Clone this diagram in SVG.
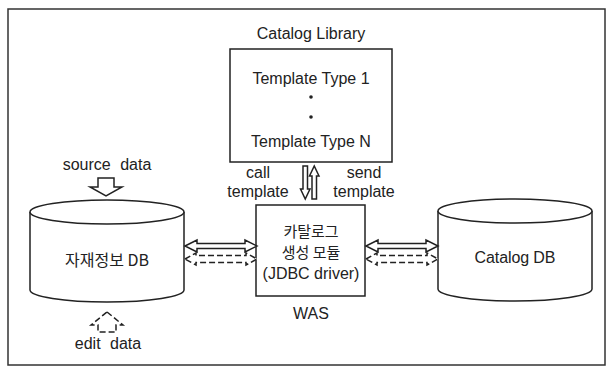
<svg xmlns="http://www.w3.org/2000/svg" width="610" height="366" viewBox="0 0 610 366">
<style>
text{font-family:"Liberation Sans","Noto Sans CJK KR",sans-serif;font-size:16px;fill:#222;text-anchor:middle}
.ko{font-family:"Noto Sans CJK KR",sans-serif;font-size:16px}
.kob{font-family:"Noto Sans CJK KR",sans-serif;font-size:15px}
.ws{word-spacing:5px}
.ln{fill:#fff;stroke:#222;stroke-width:1.5}
.dash{fill:#fff;stroke:#222;stroke-width:1.5;stroke-dasharray:6 3}
.frame{fill:none;stroke:#333;stroke-width:1.5}
</style>
<rect class="frame" x="8" y="9" width="597" height="356"/>

<g id="catalog-library">
  <text x="311" y="39">Catalog Library</text>
  <rect class="ln" x="230" y="49" width="162" height="113"/>
  <text x="311" y="84">Template Type 1</text>
  <circle cx="311" cy="97" r="1.8" fill="#222"/>
  <circle cx="311" cy="117" r="1.8" fill="#222"/>
  <text x="311" y="147">Template Type N</text>
</g>

<g id="material-db">
  <path class="ln" d="M30,212 L30,290 A77,12 0 0 0 184,290 L184,212"/>
  <ellipse class="ln" cx="107" cy="212" rx="77" ry="12"/>
  <text class="ko" x="107" y="266">자재정보 DB</text>
</g>

<g id="catalog-db">
  <path class="ln" d="M438,211 L438,289 A77,12 0 0 0 592,289 L592,211"/>
  <ellipse class="ln" cx="515" cy="211" rx="77" ry="12"/>
  <text x="515" y="263" textLength="81" font-size="17">Catalog DB</text>
</g>

<g id="was">
  <rect class="ln" x="256" y="205" width="109" height="91"/>
  <text class="kob" x="311" y="237">카탈로그</text>
  <text class="kob" x="311" y="258">생성 모듈</text>
  <text x="311" y="279">(JDBC driver)</text>
  <text x="311" y="319">WAS</text>
</g>

<g id="labels">
  <text class="ws" x="107" y="170">source data</text>
  <text class="ws" x="108" y="349">edit data</text>
  <text x="258" y="178">call</text>
  <text x="258" y="197">template</text>
  <text x="364" y="178">send</text>
  <text x="364" y="197">template</text>
</g>

<g id="connectors">
  <polygon class="ln" points="98,178 114,178 114,187 122,187 106,196 90,187 98,187"/>
  <polygon class="dash" stroke-dasharray="5 3" points="107,312 123,325 116,325 116,332 98,332 98,325 91,325"/>
  <polygon class="ln" stroke-width="1.2" points="303,166 307.5,166 307.5,189 310,189 305.25,199 300.5,189 303,189"/>
  <polygon class="ln" stroke-width="1.2" points="312,199 316.5,199 316.5,176 319,176 314.25,166 309.5,176 312,176"/>
  <polygon class="ln" points="185,246 197,240 197,243.5 245,243.5 245,240 257,246 245,252 245,248.5 197,248.5 197,252"/>
  <polygon class="dash" points="185,259 196,253 196,255.5 246,255.5 246,253 257,259 246,265 246,262.5 196,262.5 196,265"/>
  <polygon class="ln" points="366,246 378,240 378,243.5 426,243.5 426,240 438,246 426,252 426,248.5 378,248.5 378,252"/>
  <polygon class="dash" points="366,259 377,253 377,255.5 427,255.5 427,253 438,259 427,265 427,262.5 377,262.5 377,265"/>
</g>
</svg>
